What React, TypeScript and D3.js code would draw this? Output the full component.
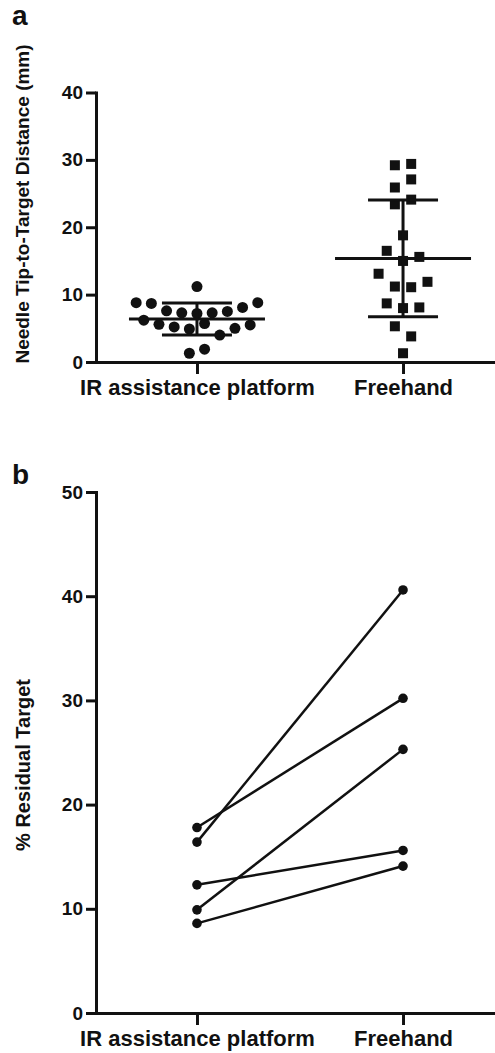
import * as d3 from "d3";
import { useRef, useEffect } from "react";

// categories
const groups = ["IR assistance platform", "Freehand"];

// panel a: needle tip-to-target distance (mm), listed roughly left to right as plotted
const irDistance = [8.8, 6.2, 8.7, 5.6, 7.6, 5.2, 7.3, 4.9, 1.3, 11.2, 7.2, 5.7, 1.9, 7.3, 4.0, 7.5, 5.0, 8.1, 5.5, 8.8];
const freehandDistance = [13.1, 29.2, 25.9, 16.5, 8.7, 11.2, 1.3, 27.1, 23.4, 18.8, 15.0, 8.0, 5.3, 11.1, 3.8, 29.4, 24.1, 15.6, 8.1, 11.9];
const distanceTicks = [0, 10, 20, 30, 40];

// panel b: % residual target, paired by patient
const residualIR = [17.8, 16.4, 12.3, 9.9, 8.6];
const residualFreehand = [30.2, 40.6, 15.6, 25.3, 14.1];
const residualTicks = [0, 10, 20, 30, 40, 50];

const FONT = "'Liberation Sans', Arial, Helvetica, sans-serif";
const INK = "#111";

// prism-like scatter: group close values into rows, spread each row sideways
function rowSlots(values: number[], y: d3.ScaleLinear<number, number>, rowPx: number) {
  const order = d3.range(values.length).sort((a, b) => values[a] - values[b] || a - b);
  const rows: number[][] = [];
  let cur: number[] = [];
  let startY = 0;
  order.forEach((i) => {
    const py = y(values[i]);
    if (!cur.length || startY - py >= rowPx) {
      if (cur.length) rows.push(cur);
      cur = [i];
      startY = py;
    } else cur.push(i);
  });
  if (cur.length) rows.push(cur);
  const slots: number[] = new Array(values.length);
  rows.forEach((r) => {
    r.sort((a, b) => a - b);
    r.forEach((i, k) => (slots[i] = k - (r.length - 1) / 2));
  });
  return slots;
}

function styleAxis(g: d3.Selection<SVGGElement, unknown, null, undefined>, size: number) {
  g.select(".domain").attr("stroke", INK).attr("stroke-width", 3).attr("stroke-linecap", "square");
  g.selectAll(".tick line").attr("stroke", INK).attr("stroke-width", 3);
  g.selectAll(".tick text")
    .attr("fill", INK)
    .style("font-family", FONT)
    .style("font-weight", "bold")
    .style("font-size", `${size}px`);
}

const App = () => {
  const chartRef = useRef<SVGSVGElement>(null);
  const width = 495;
  const height = 1053;

  useEffect(() => {
    if (!chartRef.current) return;
    const svg = d3.select(chartRef.current);
    svg.selectAll("*").remove();

    const x = d3.scalePoint<string>().domain(groups).range([96, 504]).padding(0.49);

    // ---------- panel a ----------
    const yA = d3.scaleLinear().domain([0, 40]).range([362, 92.5]);

    const gA = svg.append("g");
    const xAxisA = gA.append("g").attr("transform", `translate(0, ${yA(0)})`)
      .call(d3.axisBottom(x).tickSize(12).tickSizeOuter(0).tickPadding(5));
    styleAxis(xAxisA, 22);
    const yAxisA = gA.append("g").attr("transform", `translate(${x.range()[0]}, 0)`)
      .call(d3.axisLeft(yA).tickValues(distanceTicks).tickSize(10).tickSizeOuter(0).tickPadding(3));
    styleAxis(yAxisA, 19);

    const irSlots = rowSlots(irDistance, yA, 15);
    const fhSlots = rowSlots(freehandDistance, yA, 15);

    gA.selectAll(".dotIR")
      .data(irDistance)
      .enter()
      .append("circle")
      .attr("cx", (d, i) => x(groups[0])! + irSlots[i] * 15.2)
      .attr("cy", (d) => yA(d))
      .attr("r", 5.5)
      .attr("fill", INK);

    const sq = 10;
    gA.selectAll(".dotFH")
      .data(freehandDistance)
      .enter()
      .append("rect")
      .attr("x", (d, i) => x(groups[1])! + fhSlots[i] * 16.3 - sq / 2)
      .attr("y", (d) => yA(d) - sq / 2)
      .attr("width", sq)
      .attr("height", sq)
      .attr("fill", INK);

    // mean and SD bars
    [irDistance, freehandDistance].forEach((vals, gi) => {
      const cx = x(groups[gi])!;
      const m = d3.mean(vals)!;
      const sd = d3.deviation(vals)!;
      const bar = gA.append("g").attr("stroke", INK).attr("stroke-width", 3);
      bar.append("line").attr("x1", cx - 68).attr("x2", cx + 68).attr("y1", yA(m)).attr("y2", yA(m));
      bar.append("line").attr("x1", cx).attr("x2", cx).attr("y1", yA(m - sd)).attr("y2", yA(m + sd));
      [m - sd, m + sd].forEach((v) => {
        bar.append("line").attr("x1", cx - 35).attr("x2", cx + 35).attr("y1", yA(v)).attr("y2", yA(v));
      });
    });

    gA.append("text")
      .attr("transform", `translate(28.5, 204) rotate(-90)`)
      .attr("text-anchor", "middle")
      .style("font-family", FONT).style("font-weight", "bold").style("font-size", "19px")
      .attr("fill", INK)
      .text("Needle Tip-to-Target Distance (mm)");

    svg.append("text").attr("x", 12).attr("y", 25)
      .style("font-family", FONT).style("font-weight", "bold").style("font-size", "28px")
      .attr("fill", INK).text("a");

    // ---------- panel b ----------
    const yB = d3.scaleLinear().domain([0, 50]).range([1013, 492]);
    const gB = svg.append("g");
    const xAxisB = gB.append("g").attr("transform", `translate(0, ${yB(0)})`)
      .call(d3.axisBottom(x).tickSize(12).tickSizeOuter(0).tickPadding(5));
    styleAxis(xAxisB, 22);
    const yAxisB = gB.append("g").attr("transform", `translate(${x.range()[0]}, 0)`)
      .call(d3.axisLeft(yB).tickValues(residualTicks).tickSize(10).tickSizeOuter(0).tickPadding(3));
    styleAxis(yAxisB, 19);

    const pairs = residualIR.map((v, i) => [v, residualFreehand[i]]);
    const line = d3.line<number>()
      .x((d, i) => x(groups[i])!)
      .y((d) => yB(d));

    gB.selectAll(".pair")
      .data(pairs)
      .enter()
      .append("path")
      .attr("d", (d) => line(d))
      .attr("fill", "none")
      .attr("stroke", INK)
      .attr("stroke-width", 2.5);

    pairs.forEach((p) => {
      gB.selectAll(null)
        .data(p)
        .enter()
        .append("circle")
        .attr("cx", (d, i) => x(groups[i])!)
        .attr("cy", (d) => yB(d))
        .attr("r", 4.8)
        .attr("fill", INK);
    });

    gB.append("text")
      .attr("transform", `translate(29.5, 765) rotate(-90)`)
      .attr("text-anchor", "middle")
      .style("font-family", FONT).style("font-weight", "bold").style("font-size", "20px")
      .attr("fill", INK)
      .text("% Residual Target");

    svg.append("text").attr("x", 12).attr("y", 484)
      .style("font-family", FONT).style("font-weight", "bold").style("font-size", "28px")
      .attr("fill", INK).text("b");
  }, []);

  return (
    <svg
      ref={chartRef}
      width={width}
      height={height}
      style={{ position: "absolute", left: 0, top: 0, background: "#fff" }}
    ></svg>
  );
};

export default App;
